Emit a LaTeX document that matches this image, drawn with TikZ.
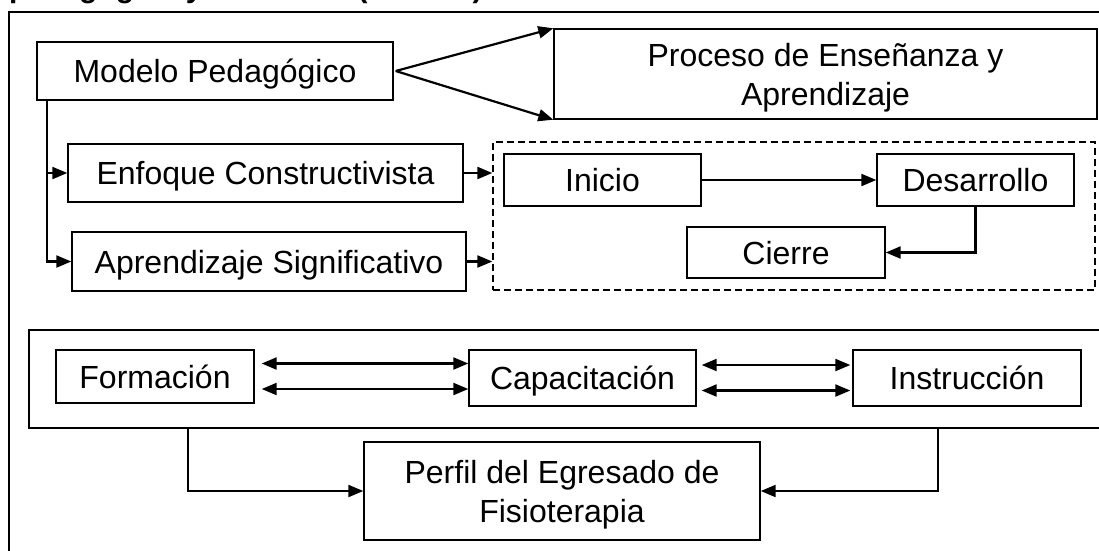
\documentclass[tikz,border=0pt]{standalone}
\usepackage{fontspec}
\setmainfont{Liberation Sans}
\usetikzlibrary{arrows.meta}

\begin{document}
\begin{tikzpicture}[x=1pt,y=-1pt,
    caja/.style={draw, line width=1.4pt, inner sep=0pt, align=center,
      text depth=0pt, font=\fontsize{32}{39}\selectfont},
    flecha/.style={line width=2.2pt, -{Triangle[length=15pt,width=12pt]}},
    doble/.style={line width=2.2pt,
      {Triangle[length=15pt,width=12pt]}-{Triangle[length=15pt,width=12pt]}}]

  \useasboundingbox (0,0) rectangle (1099,550);

  % title line, cut at the top of the page
  \node[anchor=base west, inner sep=0pt, font=\fontsize{30}{36}\selectfont\bfseries]
    (titulo) at (9,-2.5) {pedagógico y curricular (Autoría)};

  % outer frame
  \draw[line width=1.4pt] (9,560) -- (9,12) -- (1110,12);

  \begin{scope}[every node/.style={caja}]
    \node[minimum width=356pt, minimum height=58pt] (modelo) at (215,71) {Modelo Pedagógico};
    \node[minimum width=543pt, minimum height=90pt] (proceso) at (825.5,74) {Proceso de Enseñanza y\\Aprendizaje};
    \node[minimum width=395pt, minimum height=58pt] (enfoque) at (265.5,173) {Enfoque Constructivista};
    \node[minimum width=394pt, minimum height=59pt] (aprend) at (269,261.5) {Aprendizaje Significativo};

    \node[dashed, dash pattern=on 7pt off 4pt, line width=1.3pt,
      minimum width=602pt, minimum height=148pt] (fases) at (794,216) {};
    \node[minimum width=197pt, minimum height=52pt] (inicio) at (602.5,180) {Inicio};
    \node[minimum width=197pt, minimum height=52pt] (desarrollo) at (975.5,180) {Desarrollo};
    \node[minimum width=198pt, minimum height=51pt] (cierre) at (786,252.5) {Cierre};

    \node[minimum width=1091pt, minimum height=98pt] (bloque) at (574.5,379) {};
    \node[minimum width=198pt, minimum height=53pt] (formacion) at (155,376.5) {Formación};
    \node[minimum width=227pt, minimum height=56pt] (capacitacion) at (582.5,378) {Capacitación};
    \node[minimum width=228pt, minimum height=56pt] (instruccion) at (967,378) {Instrucción};
    \node[minimum width=396pt, minimum height=98pt] (perfil) at (562,491) {Perfil del Egresado de\\Fisioterapia};
  \end{scope}

  \draw[flecha] ([xshift=2pt]modelo.east) -- (proceso.north west);
  \draw[flecha] ([xshift=2pt]modelo.east) -- (proceso.south west);
  \draw[flecha] ([xshift=11pt]modelo.south west) |- (enfoque.west);
  \draw[flecha] ([xshift=11pt]modelo.south west) |- (aprend.west);
  \draw[flecha] (enfoque.east) -- (enfoque.east -| fases.west);
  \draw[flecha] (aprend.east) -- (aprend.east -| fases.west);

  \draw[flecha] (inicio) -- (desarrollo);
  \draw[flecha] (desarrollo.south) |- (cierre.east);

  \draw[doble] ([xshift=7pt,yshift=13pt]formacion.east) -- ([yshift=13pt]formacion.east -| capacitacion.west);
  \draw[doble] ([xshift=7pt,yshift=-12.5pt]formacion.east) -- ([yshift=-12.5pt]formacion.east -| capacitacion.west);
  \draw[doble] ([xshift=5pt,yshift=13pt]capacitacion.east) -- ([xshift=-2pt,yshift=13pt]capacitacion.east -| instruccion.west);
  \draw[doble] ([xshift=5pt,yshift=-12.5pt]capacitacion.east) -- ([xshift=-2pt,yshift=-12.5pt]capacitacion.east -| instruccion.west);

  \draw[flecha] ([xshift=160pt]bloque.south west) |- (perfil.west);
  \draw[flecha] ([xshift=910pt]bloque.south west) |- (perfil.east);

\end{tikzpicture}
\end{document}
